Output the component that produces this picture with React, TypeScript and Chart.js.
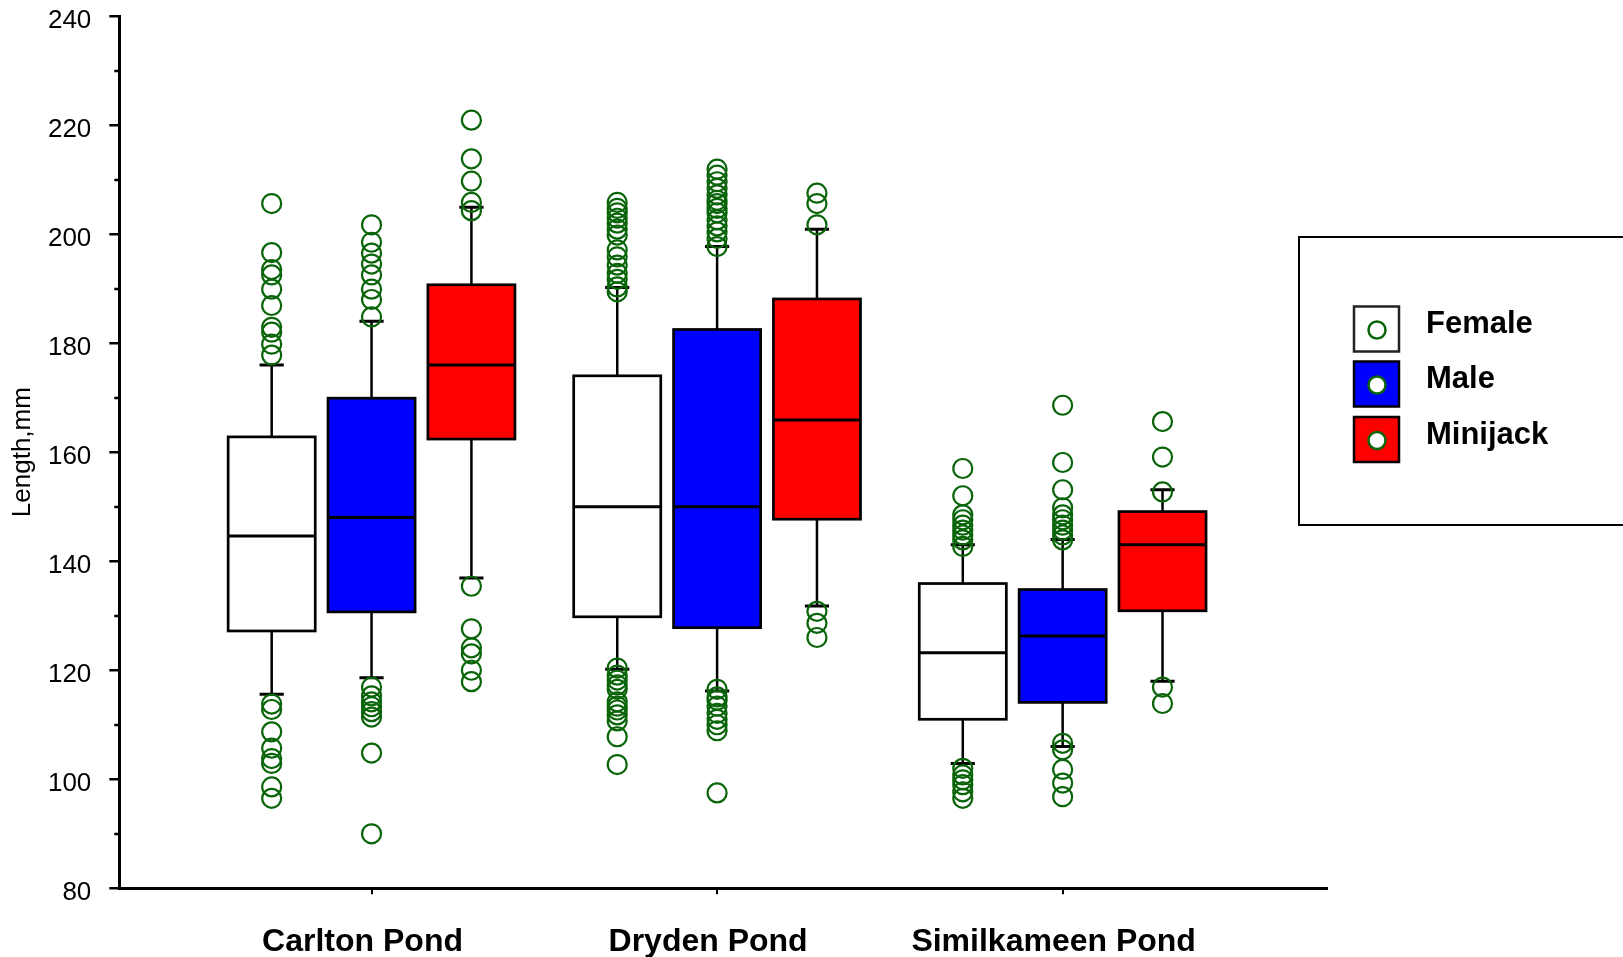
import React, { useEffect, useRef } from 'react';
import { Chart, registerables } from 'chart.js';

Chart.register(...registerables);

// ---------- data ----------
const categories = ['Carlton Pond', 'Dryden Pond', 'Similkameen Pond'];
const seriesNames = ['Female', 'Male', 'Minijack'];
const seriesColors = ['#ffffff', '#0000ff', '#ff0000'];
const yTickValues = [80, 100, 120, 140, 160, 180, 200, 220, 240];

const femaleWhiskerLow = [115.6, 120.2, 102.9];
const femaleQ1 = [127.2, 129.8, 111.0];
const femaleMedian = [144.6, 150.0, 123.2];
const femaleQ3 = [162.8, 174.0, 135.9];
const femaleWhiskerHigh = [176.0, 190.2, 143.0];

const maleWhiskerLow = [118.6, 116.2, 106.0];
const maleQ1 = [130.7, 127.8, 114.1];
const maleMedian = [148.0, 150.0, 126.3];
const maleQ3 = [169.9, 182.5, 134.8];
const maleWhiskerHigh = [184.0, 197.7, 144.0];

const minijackWhiskerLow = [136.9, 131.8, 118.0];
const minijackQ1 = [162.4, 147.7, 130.9];
const minijackMedian = [176.0, 165.9, 143.0];
const minijackQ3 = [190.7, 188.1, 149.1];
const minijackWhiskerHigh = [204.9, 200.9, 153.1];

const femaleOutliers = [
  [205.6, 196.6, 193.5, 192.5, 189.9, 186.9, 182.9, 182.0, 179.8, 177.8, 113.8, 112.8, 108.7, 105.7, 103.8, 102.9, 98.6, 96.5],
  [205.8, 204.7, 203.9, 202.9, 202.0, 200.9, 199.8, 197.1, 195.8, 194.3, 192.8, 191.7, 190.3, 189.4,
    120.4, 119.1, 118.2, 117.3, 116.5, 114.2, 113.4, 112.7, 111.8, 110.7, 107.8, 102.7],
  [157.0, 152.0, 148.5, 147.6, 146.6, 145.7, 144.8, 143.9, 142.7, 102.0, 100.8, 99.9, 99.0, 97.7, 96.5],
];
const maleOutliers = [
  [201.7, 198.5, 196.5, 194.5, 192.5, 189.9, 188.0, 184.8, 116.9, 115.3, 114.2, 113.3, 112.4, 111.4, 104.8, 90.0],
  [211.9, 210.8, 209.6, 208.4, 207.2, 206.2, 205.6, 204.7, 203.9, 202.6, 201.5, 200.4, 199.2, 197.7,
    116.5, 115.1, 114.5, 113.4, 112.1, 111.0, 110.0, 108.9, 97.5],
  [168.6, 158.1, 153.1, 149.8, 148.5, 147.6, 146.6, 145.7, 144.8, 143.9, 106.6, 105.4, 101.8, 99.3, 96.8],
];
const minijackOutliers = [
  [220.9, 213.8, 209.7, 205.8, 204.3, 135.4, 127.6, 124.1, 123.0, 120.0, 117.9],
  [207.5, 205.6, 201.7, 130.8, 128.6, 126.0],
  [165.6, 159.1, 152.7, 116.9, 113.9],
];

// ---------- layout / style constants ----------
const seriesOffset = [-0.289, 0, 0.289];
const boxWidth = 0.252;
const capWidth = 0.07;
const FONT = "'Liberation Sans', Arial, Helvetica, sans-serif";
const GREEN = '#0a650a';

const whiskerLow = [femaleWhiskerLow, maleWhiskerLow, minijackWhiskerLow];
const q1s = [femaleQ1, maleQ1, minijackQ1];
const medians = [femaleMedian, maleMedian, minijackMedian];
const q3s = [femaleQ3, maleQ3, minijackQ3];
const whiskerHigh = [femaleWhiskerHigh, maleWhiskerHigh, minijackWhiskerHigh];
const outliers = [femaleOutliers, maleOutliers, minijackOutliers];

const boxPlugin = {
  id: 'boxes',
  beforeDatasetsDraw(chart: any) {
    const { ctx, scales } = chart;
    const xs = scales.x;
    const ys = scales.y;
    const halfW = (xs.getPixelForValue(boxWidth) - xs.getPixelForValue(0)) / 2;
    const halfCap = (xs.getPixelForValue(capWidth) - xs.getPixelForValue(0)) / 2;
    ctx.save();
    ctx.strokeStyle = '#000';
    seriesNames.forEach((_, s) => {
      categories.forEach((__, c) => {
        const cx = xs.getPixelForValue(c + seriesOffset[s]);
        const yLo = ys.getPixelForValue(whiskerLow[s][c]);
        const yQ1 = ys.getPixelForValue(q1s[s][c]);
        const yMed = ys.getPixelForValue(medians[s][c]);
        const yQ3 = ys.getPixelForValue(q3s[s][c]);
        const yHi = ys.getPixelForValue(whiskerHigh[s][c]);
        // whiskers
        ctx.lineWidth = 2.5;
        ctx.beginPath();
        ctx.moveTo(cx, yLo);
        ctx.lineTo(cx, yQ1);
        ctx.moveTo(cx, yQ3);
        ctx.lineTo(cx, yHi);
        ctx.stroke();
        ctx.lineWidth = 3;
        ctx.beginPath();
        ctx.moveTo(cx - halfCap, yLo);
        ctx.lineTo(cx + halfCap, yLo);
        ctx.moveTo(cx - halfCap, yHi);
        ctx.lineTo(cx + halfCap, yHi);
        ctx.stroke();
        // box
        ctx.fillStyle = seriesColors[s];
        ctx.fillRect(cx - halfW, yQ3, halfW * 2, yQ1 - yQ3);
        ctx.lineWidth = 2.7;
        ctx.strokeRect(cx - halfW, yQ3, halfW * 2, yQ1 - yQ3);
        // median
        ctx.lineWidth = 3;
        ctx.beginPath();
        ctx.moveTo(cx - halfW, yMed);
        ctx.lineTo(cx + halfW, yMed);
        ctx.stroke();
      });
    });
    ctx.restore();
  },
};

const minorTickPlugin = {
  id: 'minorTicks',
  afterDraw(chart: any) {
    const { ctx, scales, chartArea } = chart;
    const ys = scales.y;
    ctx.save();
    ctx.strokeStyle = '#000';
    ctx.lineWidth = 2.5;
    for (let i = 0; i < yTickValues.length - 1; i++) {
      const v = (yTickValues[i] + yTickValues[i + 1]) / 2;
      const y = Math.round(ys.getPixelForValue(v));
      ctx.beginPath();
      ctx.moveTo(chartArea.left - 5, y);
      ctx.lineTo(chartArea.left, y);
      ctx.stroke();
    }
    ctx.restore();
  },
};

const legendPlugin = {
  id: 'boxLegend',
  afterDraw(chart: any) {
    const { ctx } = chart;
    ctx.save();
    ctx.strokeStyle = '#000';
    ctx.lineWidth = 2;
    ctx.strokeRect(1299, 237, 360, 288);
    const tops = [306.5, 361.5, 417];
    seriesNames.forEach((name, i) => {
      const top = tops[i];
      ctx.fillStyle = seriesColors[i];
      ctx.fillRect(1354, top, 45, 45);
      ctx.strokeStyle = i === 0 ? '#222' : '#000';
      ctx.lineWidth = 2.5;
      ctx.strokeRect(1354, top, 45, 45);
      ctx.beginPath();
      ctx.arc(1377, top + 23.5, 8.5, 0, Math.PI * 2);
      ctx.fillStyle = '#fff';
      ctx.fill();
      ctx.strokeStyle = GREEN;
      ctx.lineWidth = 2.5;
      ctx.stroke();
      ctx.fillStyle = '#000';
      ctx.font = `bold 31px ${FONT}`;
      ctx.textBaseline = 'alphabetic';
      ctx.textAlign = 'left';
      ctx.fillText(name, 1426, top + 26.5);
    });
    ctx.restore();
  },
};

export default function App() {
  const ref = useRef<HTMLCanvasElement>(null);

  useEffect(() => {
    document.body.style.margin = '0';
    const canvas = ref.current;
    if (!canvas) return;

    const datasets = seriesNames.map((name, s) => ({
      label: name + ' outliers',
      data: outliers[s].flatMap((vals, c) =>
        vals.map((v) => ({ x: c + seriesOffset[s], y: v }))
      ),
      pointStyle: 'circle' as const,
      pointRadius: 9.5,
      pointHoverRadius: 9.5,
      borderWidth: 2.2,
      borderColor: GREEN,
      backgroundColor: 'rgba(0,0,0,0)',
      showLine: false,
    }));

    const chart = new Chart(canvas, {
      type: 'scatter',
      data: { datasets },
      options: {
        responsive: false,
        animation: false,
        devicePixelRatio: 1,
        layout: { padding: { top: 16, right: 296, bottom: 0, left: 0 } },
        plugins: {
          legend: { display: false },
          tooltip: { enabled: false },
        },
        scales: {
          x: {
            type: 'linear',
            position: 'bottom',
            min: -0.73,
            max: 2.765,
            afterBuildTicks: (scale: any) => {
              scale.ticks = categories.map((_, i) => ({ value: i }));
            },
            afterFit: (scale: any) => {
              scale.height = 68.7;
              scale.paddingLeft = 0;
              scale.paddingRight = 0;
            },
            grid: {
              drawOnChartArea: false,
              drawTicks: true,
              tickLength: 6,
              color: '#000',
              lineWidth: 2,
            },
            border: { display: true, color: '#000', width: 3 },
            ticks: {
              color: '#000',
              font: { family: FONT, size: 32, weight: 'bold' },
              padding: 29,
              labelOffset: -9,
              maxRotation: 0,
              autoSkip: false,
              callback: (v: any) => categories[Math.round(Number(v))] ?? '',
            },
          },
          y: {
            type: 'linear',
            min: yTickValues[0],
            max: yTickValues[yTickValues.length - 1],
            afterBuildTicks: (scale: any) => {
              scale.ticks = yTickValues.map((v) => ({ value: v }));
            },
            afterFit: (scale: any) => {
              scale.width = 119.3;
              scale.paddingTop = 0;
              scale.paddingBottom = 0;
            },
            grid: {
              drawOnChartArea: false,
              drawTicks: true,
              tickLength: 10,
              color: '#000',
              lineWidth: 2.5,
            },
            border: { display: true, color: '#000', width: 3 },
            ticks: {
              color: '#000',
              font: { family: FONT, size: 26 },
              padding: 18,
              labelOffset: 5,
              autoSkip: false,
              callback: (v: any) => String(v),
            },
            title: {
              display: true,
              text: 'Length,mm',
              color: '#000',
              font: { family: FONT, size: 26 },
              padding: { top: 7, bottom: 0 },
            },
          },
        },
      },
      plugins: [boxPlugin, minorTickPlugin, legendPlugin],
    } as any);

    return () => chart.destroy();
  }, []);

  return (
    <div style={{ width: 1623, height: 957, background: '#fff', overflow: 'hidden' }}>
      <canvas ref={ref} width={1623} height={957} style={{ display: 'block', width: 1623, height: 957 }} />
    </div>
  );
}
